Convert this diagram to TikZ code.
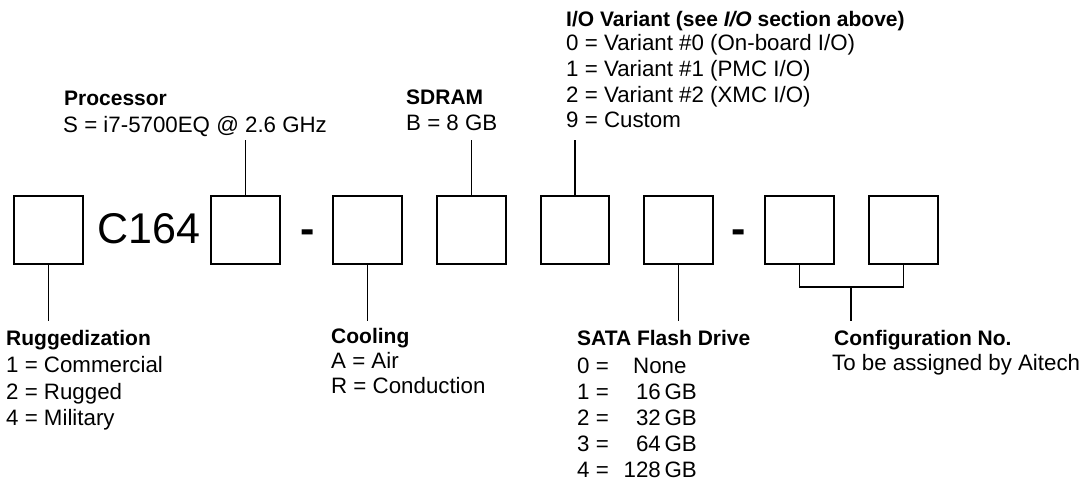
\documentclass[tikz,border=0pt]{standalone}
\usepackage{fontspec}
\setmainfont{Liberation Sans}
\begin{document}
\begin{tikzpicture}[x=1pt,y=-1pt,
  slot/.style={draw, line width=2pt, minimum width=68.5pt, minimum height=68pt, inner sep=0pt, outer sep=0pt},
  conn/.style={line width=1.8pt},
  head/.style={anchor=base west, inner sep=0pt, font=\fontsize{21}{25}\selectfont\bfseries},
  val/.style={anchor=base west, inner sep=0pt, font=\fontsize{22.3}{26}\selectfont},
  valr/.style={anchor=base east, inner sep=0pt, font=\fontsize{22.3}{26}\selectfont},
  big/.style={anchor=base west, inner sep=0pt, font=\fontsize{43}{50}\selectfont},
  sep/.style={anchor=base west, inner sep=0pt, font=\fontsize{43}{50}\selectfont\bfseries}]
\useasboundingbox (0,0) rectangle (1087,484);

% code boxes
\node[slot] (b1) at (48.5,230) {};
\node[big] (c164) at (97,243) {C164};
\node[slot] (b2) at (245.5,230) {};
\node[sep] (d1) at (300,243) {-};
\node[slot] (b3) at (367.5,230) {};
\node[slot] (b4) at (471.5,230) {};
\node[slot] (b5) at (575,230) {};
\node[slot] (b6) at (678.5,230) {};
\node[sep] (d2) at (731,243) {-};
\node[slot] (b7) at (799.5,230) {};
\node[slot] (b8) at (903.5,230) {};

% connector ends
\coordinate (p2) at (245.5,140);
\coordinate (p4) at (471.5,140);
\coordinate (p5) at (575,140);
\coordinate (p1) at (48.5,321);
\coordinate (p3) at (367.5,321);
\coordinate (p6) at (678.5,321);
\coordinate (cj) at (851,287);
\coordinate (p7) at (851,321);

\draw[conn] (b2.north) -- (p2);
\draw[conn] (b4.north) -- (p4);
\draw[conn] (b5.north) -- (p5);
\draw[conn] (b1.south) -- (p1);
\draw[conn] (b3.south) -- (p3);
\draw[conn] (b6.south) -- (p6);
\draw[conn] (b7.south) |- (cj) -| (b8.south);
\draw[conn] (cj) -- (p7);

% Processor
\node[head] (proh) at (64,106) {Processor};
\node[val] (pro1) at (63,133) {S = i7-5700EQ @ 2.6 GHz};

% SDRAM
\node[head] (sdh) at (406,105) {SDRAM};
\node[val] (sd1) at (406,131) {B = 8 GB};

% I/O variant
\node[head] (ioh) at (566,27) {I/O Variant (see \textit{I/O} section above)};
\node[val] (io0) at (566,50.5) {0 = Variant \#0 (On-board I/O)};
\node[val] (io1) at (566,76.3) {1 = Variant \#1 (PMC I/O)};
\node[val] (io2) at (566,102.1) {2 = Variant \#2 (XMC I/O)};
\node[val] (io9) at (566,127.9) {9 = Custom};

% Ruggedization
\node[head] (rgh) at (6,345) {Ruggedization};
\node[val] (rg1) at (6,372) {1 = Commercial};
\node[val] (rg2) at (6,399) {2 = Rugged};
\node[val] (rg4) at (6,425.5) {4 = Military};

% Cooling
\node[head] (coh) at (331,343) {Cooling};
\node[val] (co1) at (331,368) {A = Air};
\node[val] (co2) at (331,393) {R = Conduction};

% SATA
\node[head] (sah) at (577,345) {SATA Flash Drive};
\node[val] (sa0) at (577,373) {0 =};
\node[val] (sa0v) at (633,373) {None};
\node[val] (sa1) at (577,399.5) {1 =};
\node[valr] (sa1v) at (697,399.5) {16\,GB};
\node[val] (sa2) at (577,425.5) {2 =};
\node[valr] (sa2v) at (697,425.5) {32\,GB};
\node[val] (sa3) at (577,451.5) {3 =};
\node[valr] (sa3v) at (697,451.5) {64\,GB};
\node[val] (sa4) at (577,477.5) {4 =};
\node[valr] (sa4v) at (697,477.5) {128\,GB};

% Configuration
\node[head] (cfh) at (834,345) {Configuration No.};
\node[val] (cf1) at (832,370) {To be assigned by Aitech};
\end{tikzpicture}
\end{document}
